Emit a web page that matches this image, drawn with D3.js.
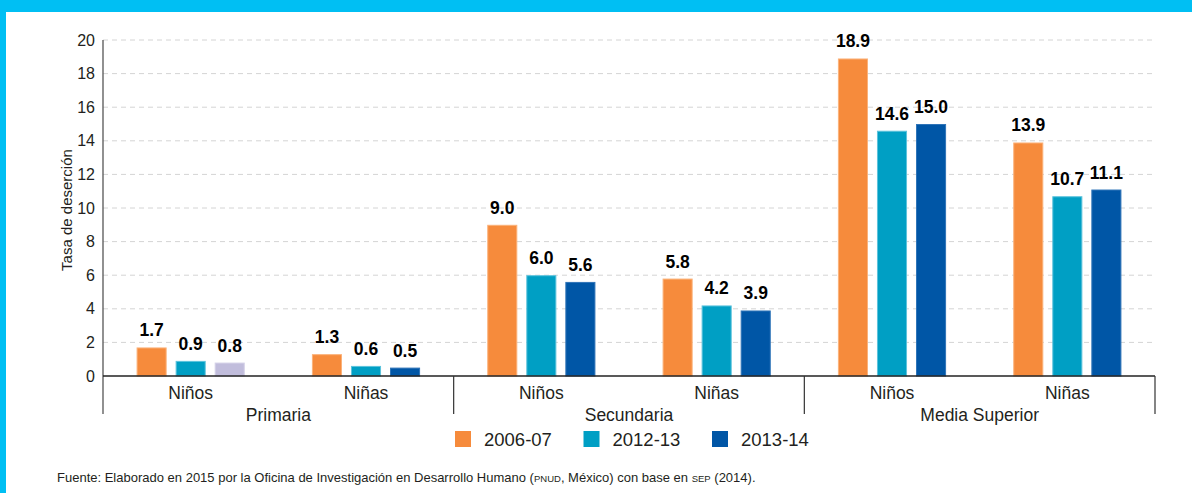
<!DOCTYPE html>
<html>
<head>
<meta charset="utf-8">
<script src="https://cdn.jsdelivr.net/npm/d3@7"></script>
<style>
  body { margin: 0; background: #00bff3; }
  svg { display: block; font-family: "Liberation Sans", Arial, sans-serif; }
</style>
</head>
<body>
<svg id="grafico" width="1192" height="493"></svg>
<script>
// Datos
var niveles = ["Primaria", "Secundaria", "Media Superior"];
var sexos = ["Niños", "Niñas"];
var periodos = ["2006-07", "2012-13", "2013-14"];
var valores_2006 = [1.7, 1.3, 9.0, 5.8, 18.9, 13.9];
var valores_2012 = [0.9, 0.6, 6.0, 4.2, 14.6, 10.7];
var valores_2013 = [0.8, 0.5, 5.6, 3.9, 15.0, 11.1];
var ticks_y = [0, 2, 4, 6, 8, 10, 12, 14, 16, 18, 20];

var colores = ["#f68b3c", "#009fc4", "#0056a6"];
var bordes = ["#fbb27a", "#5cc3dc", "#2f74b8"];

var ancho = 1192, alto = 493;
var izq = 103, der = 1155, arriba = 40, abajo = 376;

var svg = d3.select("#grafico");

// Fondo blanco con el marco cian
svg.append("rect")
    .attr("x", 6).attr("y", 12)
    .attr("width", ancho - 6).attr("height", alto - 12)
    .attr("fill", "#fff");

var y = d3.scaleLinear().domain([0, 20]).range([abajo, arriba]);
var x0 = d3.scaleBand().domain(niveles).range([izq, der]);
var x1 = d3.scaleBand().domain(sexos).range([0, x0.bandwidth()]);
var x2 = d3.scaleBand().domain(periodos).range([0, x1.bandwidth()])
    .paddingInner(0.23).paddingOuter(0.86);

// Rejilla
svg.append("g")
    .selectAll("line")
    .data(ticks_y.filter(d => d > 0))
    .enter()
    .append("line")
    .attr("x1", izq).attr("x2", der)
    .attr("y1", d => y(d)).attr("y2", d => y(d))
    .attr("stroke", "#d4d4d4")
    .attr("stroke-dasharray", "5,4");

// Eje Y
var ejeY = svg.append("g")
    .attr("transform", "translate(" + izq + ",0)")
    .call(d3.axisLeft(y).tickValues(ticks_y).tickSize(0).tickPadding(8));
ejeY.select(".domain").remove();
ejeY.selectAll("text")
    .style("font-size", "16px")
    .attr("fill", "#231f20")
    .style("font-family", "'Liberation Sans', Arial, sans-serif");

svg.append("line")
    .attr("x1", izq).attr("x2", izq)
    .attr("y1", arriba).attr("y2", 414)
    .attr("stroke", "#555").attr("stroke-width", 1.3);

svg.append("text")
    .attr("transform", "translate(72," + 210 + ") rotate(-90)")
    .attr("text-anchor", "middle")
    .style("font-size", "15px")
    .attr("fill", "#231f20")
    .text("Tasa de deserción");

// Barras
var series = [valores_2006, valores_2012, valores_2013];
var datos = [];
niveles.forEach(function(n, i) {
    sexos.forEach(function(s, j) {
        periodos.forEach(function(p, k) {
            datos.push({ nivel: n, sexo: s, periodo: p, k: k, valor: series[k][i * 2 + j] });
        });
    });
});

var colorBarra = function(d) {
    // en el original la primera barra 2013-14 sale en lila
    if (d.nivel === "Primaria" && d.sexo === "Niños" && d.k === 2) return "#c1bddc";
    return colores[d.k];
};
var bordeBarra = function(d) {
    if (d.nivel === "Primaria" && d.sexo === "Niños" && d.k === 2) return "#d4d1e8";
    return bordes[d.k];
};

var bx = d => x0(d.nivel) + x1(d.sexo) + x2(d.periodo);

svg.append("g")
    .selectAll("rect")
    .data(datos)
    .enter()
    .append("rect")
    .attr("x", d => bx(d) + 0.5)
    .attr("y", d => y(d.valor) + 0.5)
    .attr("width", x2.bandwidth() - 1)
    .attr("height", d => y(0) - y(d.valor) - 0.5)
    .attr("fill", colorBarra)
    .attr("stroke", bordeBarra)
    .attr("stroke-width", 1);

svg.append("g")
    .selectAll("text")
    .data(datos)
    .enter()
    .append("text")
    .attr("x", d => bx(d) + x2.bandwidth() / 2)
    .attr("y", d => y(d.valor) - 11)
    .attr("text-anchor", "middle")
    .style("font-size", "17.5px")
    .style("font-weight", "bold")
    .attr("fill", "#000")
    .text(d => d.valor.toFixed(1));

// Eje X
svg.append("line")
    .attr("x1", izq).attr("x2", der)
    .attr("y1", abajo).attr("y2", abajo)
    .attr("stroke", "#222").attr("stroke-width", 1.5);

svg.append("g")
    .selectAll("line")
    .data(niveles.slice(1).concat(["fin"]))
    .enter()
    .append("line")
    .attr("x1", d => d === "fin" ? der : x0(d))
    .attr("x2", d => d === "fin" ? der : x0(d))
    .attr("y1", abajo).attr("y2", 414)
    .attr("stroke", "#333").attr("stroke-width", 1.2);

var subcats = [];
niveles.forEach(n => sexos.forEach(s => subcats.push({ nivel: n, sexo: s })));
svg.append("g")
    .selectAll("text")
    .data(subcats)
    .enter()
    .append("text")
    .attr("x", d => x0(d.nivel) + x1(d.sexo) + x1.bandwidth() / 2)
    .attr("y", 399)
    .attr("text-anchor", "middle")
    .style("font-size", "17.5px")
    .attr("fill", "#231f20")
    .text(d => d.sexo);

svg.append("g")
    .selectAll("text")
    .data(niveles)
    .enter()
    .append("text")
    .attr("x", d => x0(d) + x0.bandwidth() / 2)
    .attr("y", 421)
    .attr("text-anchor", "middle")
    .style("font-size", "17.5px")
    .attr("fill", "#231f20")
    .text(d => d);

// Leyenda
var leyenda = svg.append("g")
    .selectAll("g")
    .data(periodos)
    .enter()
    .append("g")
    .attr("transform", (d, i) => "translate(" + (455 + i * 128.5) + ",431)");
leyenda.append("rect")
    .attr("width", 16).attr("height", 16)
    .attr("fill", (d, i) => colores[i]);
leyenda.append("text")
    .attr("x", 29).attr("y", 15)
    .style("font-size", "18.5px")
    .attr("fill", "#231f20")
    .text(d => d);

// Fuente
svg.append("text")
    .attr("x", 57).attr("y", 482)
    .style("font-size", "13px")
    .attr("fill", "#231f20")
    .html("Fuente: Elaborado en 2015 por la Oficina de Investigación en Desarrollo Humano (<tspan style='font-size:9.5px'>PNUD</tspan>, México) con base en <tspan style='font-size:9.5px'>SEP</tspan> (2014).");
</script>
</body>
</html>
